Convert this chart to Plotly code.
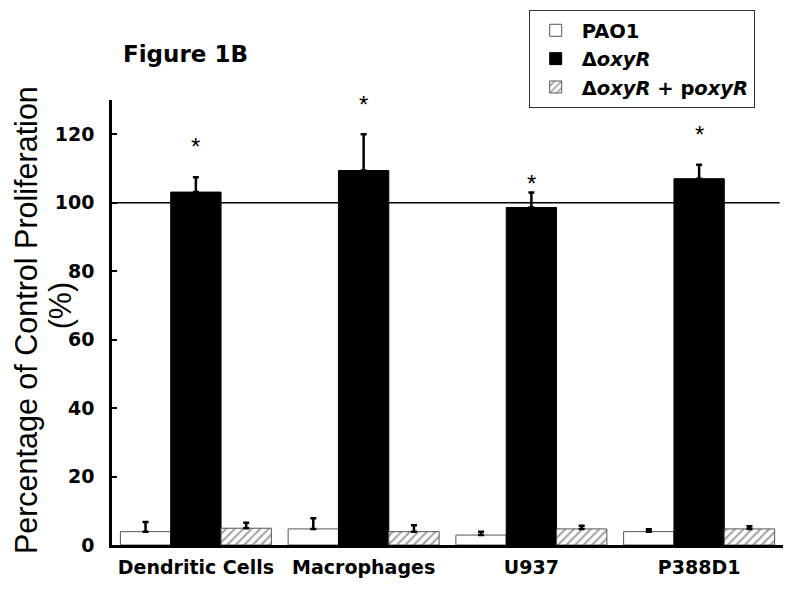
import plotly.graph_objects as go

categories = ["Dendritic Cells", "Macrophages", "U937", "P388D1"]
pao1 = [3.9, 4.7, 2.9, 3.9]
pao1_err = [2.8, 3.1, 1.0, 0.7]
oxyr = [103.1, 109.4, 98.6, 107.0]
oxyr_err = [4.3, 10.6, 4.4, 4.1]
comp = [4.9, 3.9, 4.7, 4.7]
comp_err = [1.6, 1.9, 0.9, 0.8]
star_y = [117.0, 129.4, 106.2, 120.4]
yticks = [0, 20, 40, 60, 80, 100, 120]

BOLD = "DejaVu Sans, Liberation Sans, Arial, sans-serif"
REG = "Liberation Sans, Arial, Helvetica, sans-serif"

def err(vals):
    return dict(type="data", symmetric=False, array=vals, arrayminus=[0]*len(vals),
                color="black", thickness=2.5, width=3)

fig = go.Figure()
fig.add_trace(go.Bar(name="<b>PAO1</b>", x=categories, y=pao1, error_y=err(pao1_err),
                     marker=dict(color="white", line=dict(color="#555", width=1))))
fig.add_trace(go.Bar(name="<b>Δ<i>oxyR</i></b>", x=categories, y=oxyr, error_y=err(oxyr_err),
                     marker=dict(color="black", line=dict(color="black", width=1))))
fig.add_trace(go.Bar(name="<b>Δ<i>oxyR</i> + p<i>oxyR</i></b>", x=categories, y=comp, error_y=err(comp_err),
                     marker=dict(color="white", line=dict(color="#555", width=1),
                                 pattern=dict(shape="/", fgcolor="#444", bgcolor="white", size=6, solidity=0.35))))

for c, s in zip(categories, star_y):
    fig.add_annotation(x=c, y=s, text="*", showarrow=False, yanchor="middle", yshift=-2,
                       font=dict(family=REG, size=24, color="black"))

fig.add_shape(type="line", xref="paper", yref="y", x0=0, x1=0.995, y0=100, y1=100,
              line=dict(color="black", width=1.5))

fig.add_annotation(xref="paper", yref="paper", x=0.013, y=1.103, xanchor="left", yanchor="middle",
                   text="<b>Figure 1B</b>", showarrow=False, font=dict(family=BOLD, size=23, color="black"))

# y-axis title (two lines, placed separately)
fig.add_annotation(xref="paper", yref="paper", x=-0.128, y=0.5056, xanchor="center", yanchor="middle",
                   textangle=-90, text="Percentage of Control Proliferation", showarrow=False,
                   font=dict(family=REG, size=30.5, color="black"))
fig.add_annotation(xref="paper", yref="paper", x=-0.077, y=0.537, xanchor="center", yanchor="middle",
                   textangle=-90, text="(%)", showarrow=False,
                   font=dict(family=REG, size=30.5, color="black"))

fig.update_layout(
    width=800, height=591,
    margin=dict(l=104, r=25, t=92, b=54, autoexpand=False),
    paper_bgcolor="white", plot_bgcolor="white",
    barmode="group", bargap=0.1, bargroupgap=0,
    font=dict(family=BOLD, color="black"),
    showlegend=True,
    legend=dict(x=0.621, y=1.202, xanchor="left", yanchor="top",
                bordercolor="#333", borderwidth=1, bgcolor="white",
                font=dict(family=BOLD, size=19.5, color="black"),
                tracegroupgap=0, itemwidth=42),
    xaxis=dict(showline=True, linecolor="black", linewidth=2.5, ticks="", showgrid=False,
               tickfont=dict(family=BOLD, size=19, color="black"),
               ticklabelstandoff=3, automargin=False,
               tickmode="array", tickvals=categories,
               ticktext=[f"<b>{c}</b>" for c in categories]),
    yaxis=dict(range=[0, 130], showline=True, linecolor="black", linewidth=2.5,
               ticks="inside", ticklen=5, tickwidth=1.5, tickcolor="black",
               tickvals=yticks, ticktext=[f"<b>{t}</b>" for t in yticks],
               tickfont=dict(family=BOLD, size=19, color="black"),
               ticklabelstandoff=11, automargin=False,
               showgrid=False, zeroline=False),
)

fig.write_html("out.html")
